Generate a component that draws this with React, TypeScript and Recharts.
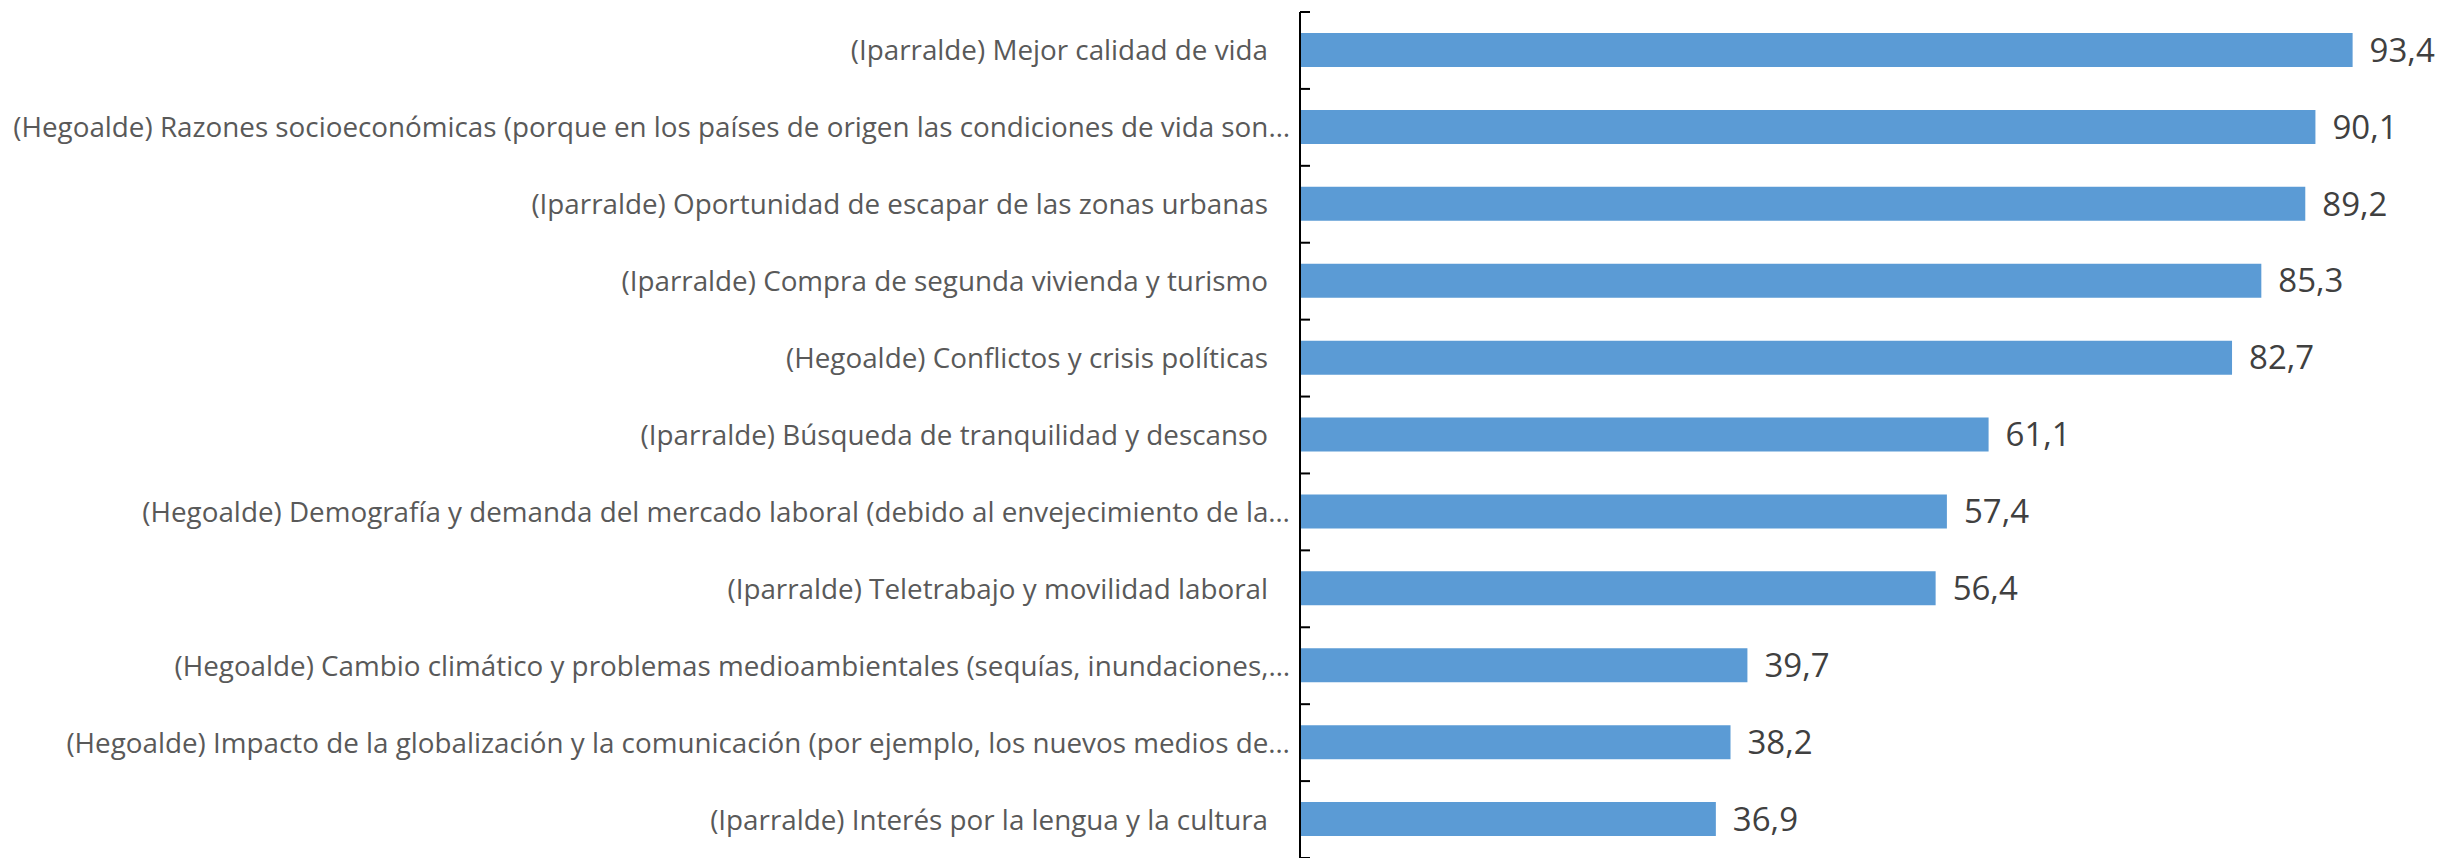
import React from 'react'
import { BarChart, Bar, XAxis, YAxis, LabelList } from 'recharts'

// categories top to bottom, as in the source chart (Excel truncates the long ones)
const labels = [
  '(Iparralde) Mejor calidad de vida',
  '(Hegoalde) Razones socioeconómicas (porque en los países de origen las condiciones de vida son…',
  '(Iparralde) Oportunidad de escapar de las zonas urbanas',
  '(Iparralde) Compra de segunda vivienda y turismo',
  '(Hegoalde) Conflictos y crisis políticas',
  '(Iparralde) Búsqueda de tranquilidad y descanso',
  '(Hegoalde) Demografía y demanda del mercado laboral (debido al envejecimiento de la…',
  '(Iparralde) Teletrabajo y movilidad laboral',
  '(Hegoalde) Cambio climático y problemas medioambientales (sequías, inundaciones,…',
  '(Hegoalde) Impacto de la globalización y la comunicación (por ejemplo, los nuevos medios de…',
  '(Iparralde) Interés por la lengua y la cultura',
]

const values = [93.4, 90.1, 89.2, 85.3, 82.7, 61.1, 57.4, 56.4, 39.7, 38.2, 36.9]

const data = labels.map((name, i) => ({ name, value: values[i] }))

const W = 2440
const H = 858
const TOP = 12
const BAND = (H - TOP) / labels.length

const FONT = '"Open Sans", sans-serif'

function CategoryTick(props: any) {
  const { x, y, payload, index } = props
  const label: string = payload.value
  // non-truncated labels carry a trailing space in the original
  const pad = label.endsWith('…') ? 10 : 32
  const top = y - BAND / 2
  const bottom = y + BAND / 2
  return (
    <g>
      {/* Excel-style tick marks sit on the category edges, pointing inward */}
      <line x1={x} x2={x + 10} y1={top} y2={top} stroke="#000" strokeWidth={2} />
      {index === labels.length - 1 && (
        <line x1={x} x2={x + 10} y1={bottom} y2={bottom} stroke="#000" strokeWidth={2} />
      )}
      <text
        x={x - pad}
        y={y}
        dy="0.36em"
        textAnchor="end"
        fill="#595959"
        fontSize={27.8}
        fontFamily={FONT}
      >
        {label}
      </text>
    </g>
  )
}

export default function App() {
  return (
    <div style={{ position: 'absolute', left: 0, top: 0, background: '#fff' }}>
      <BarChart
        width={W}
        height={H}
        data={data}
        layout="vertical"
        margin={{ top: TOP, right: 13, bottom: 0, left: 0 }}
      >
        <XAxis type="number" domain={[0, 100]} hide />
        <YAxis
          type="category"
          dataKey="name"
          width={1300}
          axisLine={{ stroke: '#000', strokeWidth: 2 }}
          tickLine={false}
          tickSize={0}
          tickMargin={0}
          interval={0}
          tick={<CategoryTick />}
        />
        <Bar dataKey="value" fill="#5B9BD5" barSize={34} isAnimationActive={false}>
          <LabelList
            dataKey="value"
            position="right"
            offset={17}
            fill="#404040"
            fontSize={33}
            fontFamily={FONT}
            formatter={(v: any) => String(v).replace('.', ',')}
          />
        </Bar>
      </BarChart>
    </div>
  )
}
